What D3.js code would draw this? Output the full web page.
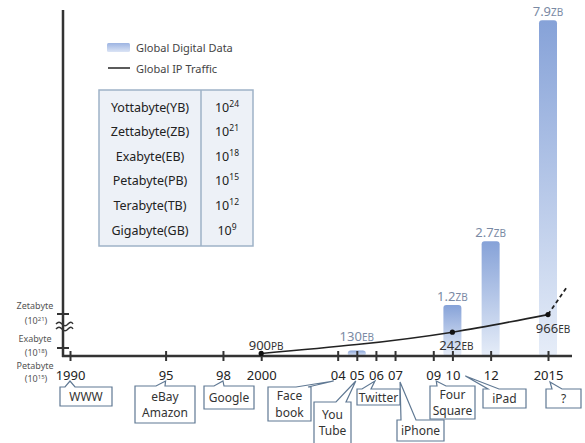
<!DOCTYPE html>
<html>
<head>
<meta charset="utf-8">
<script src="https://cdn.jsdelivr.net/npm/d3@7"></script>
<style>
  body { margin: 0; background: #fff; }
  svg { display: block; font-family: "Noto Sans", sans-serif; }
</style>
</head>
<body>
<svg width="585" height="443"></svg>
<script>
/**
 * Data
 */
// x axis ticks
var tickYears = [1990, 1995, 1998, 2000, 2004, 2005, 2006, 2007, 2009, 2010, 2012, 2015];
var tickLabels = ['1990', '95', '98', '2000', '04', '05', '06', '07', '09', '10', '12', '2015'];

// Global Digital Data (bars), in ZB
var barYears = [2005, 2010, 2012, 2015];
var barValues = [0.13, 1.2, 2.7, 7.9];
var barNums = ['130', '1.2', '2.7', '7.9'];
var barUnits = ['EB', 'ZB', 'ZB', 'ZB'];

// Global IP Traffic (line), in EB
var trafficYears = [2000, 2010, 2015];
var trafficValues = [0.9, 242, 966];
var trafficNums = ['900', '242', '966'];
var trafficUnits = ['PB', 'EB', 'EB'];
// dashed projection after 2015
var projectionYears = [2015, 2016];
var projectionValues = [966, 3500];

// y axis (broken) labels
var yTickNames = ['Zetabyte', 'Exabyte', 'Petabyte'];
var yTickExps = [21, 18, 15];

// unit table
var unitNames = ['Yottabyte(YB)', 'Zettabyte(ZB)', 'Exabyte(EB)', 'Petabyte(PB)', 'Terabyte(TB)', 'Gigabyte(GB)'];
var unitExps = ['24', '21', '18', '15', '12', '9'];

// events under the axis
var eventYears = [1990, 1995, 1998, 2004, 2005, 2006, 2007, 2009, 2010, 2015];
var eventTexts = [['WWW'], ['eBay', 'Amazon'], ['Google'], ['Face', 'book'], ['You', 'Tube'],
                  ['Twitter'], ['iPhone'], ['Four', 'Square'], ['iPad'], ['?']];

/**
 * Layout
 */
var svg = d3.select('svg');
var baseY = 356;
var axisX = 63;

var xScale = d3.scaleLinear().domain([1990, 2015]).range([70, 548]);
var yBar = d3.scaleLinear().domain([0, 8]).range([baseY, baseY - 8 * 42.5]);
var yExp = d3.scaleLinear().domain([15, 18, 21]).range([baseY, 348, 314]);
var yTraffic = d3.scalePow().exponent(0.4).domain([0, 1000]).range([baseY, yExp(21)]);

// callout boxes: box rect, pointer base on top edge, tip offset
var boxes = [
    {x: 60, y: 387, w: 52, h: 19, p0: 65, p1: 75, dx: 0, ty: 381},
    {x: 135, y: 386, w: 60, h: 37, p0: 156, p1: 165, dx: 0, ty: 381},
    {x: 204, y: 386, w: 50, h: 23, p0: 214, p1: 224, dx: 0, ty: 381},
    {x: 268, y: 387, w: 43, h: 34, p0: 296, p1: 308, dx: -4, ty: 381},
    {x: 314, y: 402, w: 37, h: 46, p0: 336, p1: 346, dx: -1, ty: 381},
    {x: 357, y: 389, w: 43, h: 16, p0: 362, p1: 371, dx: -1, ty: 381},
    {x: 397, y: 420, w: 47, h: 21, p0: 401, p1: 416, dx: 5, ty: 382},
    {x: 430, y: 386, w: 45, h: 33, p0: 437, p1: 446, dx: 3, ty: 381},
    {x: 483, y: 389, w: 43, h: 19, p0: 488, p1: 499, dx: 13, ty: 376},
    {x: 546, y: 389, w: 35, h: 19, p0: 552, p1: 562, dx: 2, ty: 382}
];

var defs = svg.append('defs');
var grad = defs.append('linearGradient').attr('id', 'barGrad')
    .attr('x1', 0).attr('y1', 0).attr('x2', 0).attr('y2', 1);
grad.append('stop').attr('offset', '0%').attr('stop-color', '#86a2d8');
grad.append('stop').attr('offset', '100%').attr('stop-color', '#e6edf8');
var legGrad = defs.append('linearGradient').attr('id', 'legGrad')
    .attr('x1', 0).attr('y1', 0).attr('x2', 0).attr('y2', 1);
legGrad.append('stop').attr('offset', '0%').attr('stop-color', '#9db4e2');
legGrad.append('stop').attr('offset', '100%').attr('stop-color', '#dbe4f5');

// superscript helper
function sup(text, base, exp, supSize, shift, after) {
    text.append('tspan').text(base);
    text.append('tspan').attr('font-size', supSize).attr('dy', -shift).text(exp);
    if (after) text.append('tspan').attr('dy', shift).text(after);
}

/**
 * Bars
 */
var bars = barYears.map(function(d, i) {
    return {year: d, v: barValues[i], num: barNums[i], unit: barUnits[i]};
});

svg.selectAll('.bar').data(bars).enter().append('rect')
    .attr('class', 'bar')
    .attr('x', function(d) { return xScale(d.year) - 9; })
    .attr('y', function(d) { return yBar(d.v); })
    .attr('width', 18)
    .attr('height', function(d) { return baseY - yBar(d.v); })
    .attr('rx', 3)
    .attr('fill', 'url(#barGrad)');

var barText = svg.selectAll('.barLabel').data(bars).enter().append('text')
    .attr('class', 'barLabel')
    .attr('x', function(d) { return xScale(d.year); })
    // keep small-bar labels clear of the traffic line
    .attr('y', function(d) { return Math.min(yBar(d.v) - 4, baseY - 15); })
    .attr('text-anchor', 'middle')
    .attr('fill', '#7a8aa4');
barText.append('tspan').attr('font-size', 13).text(function(d) { return d.num; });
barText.append('tspan').attr('font-size', 10).text(function(d) { return d.unit; });

/**
 * Axes
 */
// y axis line + ticks + break
svg.append('line')
    .attr('x1', axisX).attr('x2', axisX).attr('y1', 10).attr('y2', baseY + 1)
    .attr('stroke', '#333').attr('stroke-width', 2.5);

svg.selectAll('.ytick').data(yTickExps.slice(0, 2)).enter().append('line')
    .attr('x1', axisX - 6).attr('x2', axisX + 6)
    .attr('y1', function(d) { return yExp(d); })
    .attr('y2', function(d) { return yExp(d); })
    .attr('stroke', '#333').attr('stroke-width', 2);

[324, 329].forEach(function(yy) {
    svg.append('path')
        .attr('d', 'M' + (axisX - 7) + ',' + yy + ' q3,-3.5 6,0 t6,0 t5,0')
        .attr('fill', 'none').attr('stroke', '#333').attr('stroke-width', 1.4);
});

// y labels (name above, power below)
var yLabelPos = [{n: -5, e: 10}, {n: -6, e: 8}, {n: 13, e: 26}];
yTickNames.forEach(function(name, i) {
    var ty = yExp(yTickExps[i]);
    svg.append('text')
        .attr('x', 35).attr('y', ty + yLabelPos[i].n)
        .attr('text-anchor', 'middle').attr('font-size', 9).attr('fill', '#555')
        .text(name);
    var t = svg.append('text')
        .attr('x', 36).attr('y', ty + yLabelPos[i].e)
        .attr('text-anchor', 'middle').attr('font-size', 9).attr('fill', '#555');
    sup(t, '(10', yTickExps[i], 6, 3, ')');
});

// x axis
var xAxis = d3.axisBottom(xScale)
    .tickValues(tickYears)
    .tickSize(5)
    .tickFormat(function(d, i) { return tickLabels[i]; });

var xAxisG = svg.append('g')
    .attr('transform', 'translate(0,' + baseY + ')')
    .call(xAxis);
xAxisG.select('.domain').remove();
xAxisG.selectAll('.tick line')
    .attr('y1', -5).attr('y2', 5)
    .attr('stroke', '#333').attr('stroke-width', 2);
xAxisG.selectAll('.tick text')
    .attr('y', 24).attr('dy', 0)
    .attr('font-size', 13).attr('font-family', '"Noto Sans", sans-serif')
    .attr('fill', '#222');

svg.append('line')
    .attr('x1', axisX - 1).attr('x2', 572).attr('y1', baseY).attr('y2', baseY)
    .attr('stroke', '#333').attr('stroke-width', 2.5);

/**
 * Line: Global IP Traffic
 */
var traffic = trafficYears.map(function(d, i) {
    return {year: d, v: trafficValues[i], num: trafficNums[i], unit: trafficUnits[i]};
});
var projection = projectionYears.map(function(d, i) {
    return {year: d, v: projectionValues[i]};
});

var line = d3.line()
    .x(function(d) { return xScale(d.year); })
    .y(function(d) { return yTraffic(d.v); })
    .curve(d3.curveMonotoneX);

svg.append('path').datum(traffic)
    .attr('d', line)
    .attr('fill', 'none').attr('stroke', '#222').attr('stroke-width', 1.6);

svg.append('path').datum(projection)
    .attr('d', d3.line()
        .x(function(d) { return xScale(d.year); })
        .y(function(d) { return yTraffic(d.v); }))
    .attr('fill', 'none').attr('stroke', '#222').attr('stroke-width', 1.8)
    .attr('stroke-dasharray', '4,3');

svg.selectAll('.pt').data(traffic).enter().append('circle')
    .attr('class', 'pt')
    .attr('cx', function(d) { return xScale(d.year); })
    .attr('cy', function(d) { return yTraffic(d.v); })
    .attr('r', 2.6).attr('fill', '#111');

var trafficLabelPos = [{dx: 5, dy: -3}, {dx: 4, dy: 18}, {dx: 5, dy: 18}];
var tText = svg.selectAll('.tLabel').data(traffic).enter().append('text')
    .attr('class', 'tLabel')
    .attr('x', function(d, i) { return xScale(d.year) + trafficLabelPos[i].dx; })
    .attr('y', function(d, i) { return yTraffic(d.v) + trafficLabelPos[i].dy; })
    .attr('text-anchor', 'middle')
    .attr('fill', '#333');
tText.append('tspan').attr('font-size', 13).text(function(d) { return d.num; });
tText.append('tspan').attr('font-size', 10).text(function(d) { return d.unit; });

/**
 * Legend
 */
svg.append('rect').attr('x', 107).attr('y', 43).attr('width', 23).attr('height', 9)
    .attr('rx', 1.5).attr('fill', 'url(#legGrad)');
svg.append('text').attr('x', 136).attr('y', 52).attr('font-size', 11).attr('fill', '#444')
    .text('Global Digital Data');
svg.append('line').attr('x1', 108).attr('x2', 130).attr('y1', 68).attr('y2', 68)
    .attr('stroke', '#333').attr('stroke-width', 1.6);
svg.append('text').attr('x', 136).attr('y', 73).attr('font-size', 11).attr('fill', '#444')
    .text('Global IP Traffic');

/**
 * Unit table
 */
var table = {x: 99, y: 90, w: 154, h: 156, split: 201};
svg.append('rect')
    .attr('x', table.x).attr('y', table.y).attr('width', table.w).attr('height', table.h)
    .attr('fill', '#edf1f7').attr('stroke', '#9eb2c7').attr('stroke-width', 1.5);
svg.append('line')
    .attr('x1', table.split).attr('x2', table.split)
    .attr('y1', table.y).attr('y2', table.y + table.h)
    .attr('stroke', '#9eb2c7').attr('stroke-width', 1.5);

var rowY = d3.scalePoint().domain(unitNames).range([107, 230]);
svg.selectAll('.unitName').data(unitNames).enter().append('text')
    .attr('class', 'unitName')
    .attr('x', 150).attr('y', function(d) { return rowY(d) + 4.5; })
    .attr('text-anchor', 'middle').attr('font-size', 12.5).attr('fill', '#222')
    .text(function(d) { return d; });

unitNames.forEach(function(n, i) {
    var t = svg.append('text')
        .attr('x', 227).attr('y', rowY(n) + 4.5)
        .attr('text-anchor', 'middle').attr('font-size', 12.5).attr('fill', '#222');
    sup(t, '10', unitExps[i], 8.5, 5);
});

/**
 * Event callouts
 */
function bubblePath(b, tipX, tipY) {
    return 'M' + b.x + ',' + b.y + ' H' + b.p0 + ' L' + tipX + ',' + tipY +
        ' L' + b.p1 + ',' + b.y + ' H' + (b.x + b.w) + ' V' + (b.y + b.h) +
        ' H' + b.x + ' Z';
}

eventYears.forEach(function(yr, i) {
    var b = boxes[i];
    svg.append('path')
        .attr('d', bubblePath(b, xScale(yr) + b.dx, b.ty))
        .attr('fill', '#fff').attr('stroke', '#5f7893').attr('stroke-width', 1.2);
    var lines = eventTexts[i];
    var lh = 16.5;
    // boxes running off the bottom are centred on their visible part
    var cy = b.y + (Math.min(b.y + b.h, 443) - b.y) / 2;
    svg.selectAll(null).data(lines).enter().append('text')
        .attr('x', b.x + b.w / 2)
        .attr('y', function(d, j) { return cy + (j - (lines.length - 1) / 2) * lh + 4.5; })
        .attr('text-anchor', 'middle').attr('font-size', 12).attr('fill', '#333')
        .text(function(d) { return d; });
});
</script>
</body>
</html>
